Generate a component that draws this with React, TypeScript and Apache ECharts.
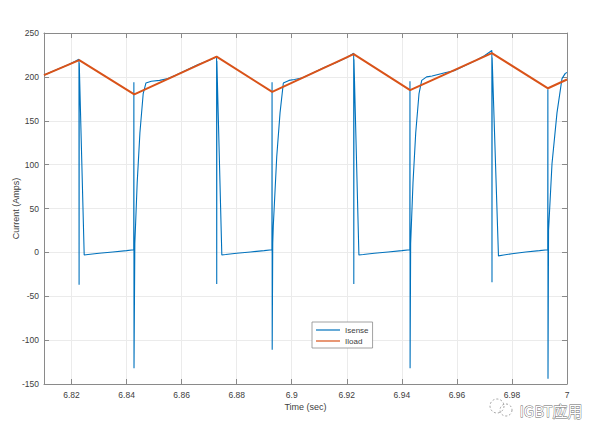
import React, { useEffect, useRef } from "react";
import * as echarts from "echarts";

// tick labels
const TIME_TICKS = [6.82, 6.84, 6.86, 6.88, 6.9, 6.92, 6.94, 6.96, 6.98, 7];

// Iload (orange) : triangle wave
const iloadTime = [6.81, 6.8228, 6.8428, 6.8727, 6.8929, 6.9225, 6.943, 6.9727, 6.9931, 7.0];
const iloadAmps = [202, 219, 180, 223, 183, 226, 185, 227, 187, 197];

// Isense (blue) : sensed switch current
const isenseTime = [
  6.81, 6.813, 6.816, 6.819, 6.8215, 6.8227,
  6.82275, 6.8228, 6.8246, 6.826, 6.83, 6.835, 6.84, 6.8426,
  6.84265, 6.8427, 6.843, 6.84385, 6.84484, 6.84604, 6.84702, 6.849, 6.852, 6.855, 6.858, 6.862, 6.866, 6.87, 6.8727,
  6.87275, 6.8728, 6.8746, 6.876, 6.88, 6.885, 6.89, 6.8928,
  6.89285, 6.8929, 6.8931, 6.8933, 6.89455, 6.89575, 6.89695, 6.899, 6.901, 6.904, 6.908, 6.912, 6.916, 6.92, 6.9225,
  6.92255, 6.9226, 6.9244, 6.926, 6.93, 6.935, 6.94, 6.9429,
  6.94295, 6.943, 6.9432, 6.94405, 6.94504, 6.94624, 6.94722, 6.949, 6.951, 6.9535, 6.956, 6.959, 6.963, 6.967, 6.97, 6.9727,
  6.97275, 6.9728, 6.9751, 6.977, 6.98, 6.985, 6.99, 6.993,
  6.99305, 6.9931, 6.9933, 6.99455, 6.99636, 6.99818, 6.99938, 7.0,
];
const isenseAmps = [
  202, 206, 210, 214, 218, 220,
  -37, 216, -3, -2.5, -1, 0.5, 2, 3,
  194, -132, 10, 79, 136, 181, 193, 195, 196, 198, 202, 208, 214, 219, 223,
  -36, 218, -3, -2.5, -1, 0.5, 2, 3,
  194, -111, 10, 30, 109, 159, 193, 196, 197, 199, 205, 211, 216, 222, 227,
  -36, 220, -3, -2.5, -1, 0.5, 2, 3,
  195, -132, 10, 79, 136, 181, 196, 200, 201, 203, 205, 207, 213, 219, 224, 230,
  -34, 222, -4, -3, -1.5, 0.5, 2, 3,
  186, -144, 25, 101, 159, 198, 204, 205,
];

const zip = (t: number[], a: number[]) => t.map((v, i) => [v, a[i]]);

const AXIS_GRAY = "#8a8a8a";
const TEXT_GRAY = "#404040";
const FONT = "'Liberation Sans', Arial, sans-serif";

export default function App() {
  const ref = useRef<HTMLDivElement>(null);
  useEffect(() => {
    if (!ref.current) return;
    const chart = echarts.init(ref.current, undefined, { renderer: "svg" });
    const baseX = {
      type: "value" as const,
      min: 6.81,
      max: 7,
      axisLine: { show: true, onZero: false, lineStyle: { color: AXIS_GRAY, width: 1 } },
      axisTick: { show: true, inside: true, length: 5, customValues: TIME_TICKS, lineStyle: { color: AXIS_GRAY } },
      splitLine: { show: true, lineStyle: { color: "#ebebeb", width: 1 } },
    };
    const baseY = {
      type: "value" as const,
      min: -150,
      max: 250,
      interval: 50,
      axisLine: { show: true, onZero: false, lineStyle: { color: AXIS_GRAY, width: 1 } },
      axisTick: { show: true, inside: true, length: 5, lineStyle: { color: AXIS_GRAY } },
      splitLine: { show: true, lineStyle: { color: "#ebebeb", width: 1 } },
    };
    chart.setOption({
      animation: false,
      backgroundColor: "#ffffff",
      textStyle: { fontFamily: FONT },
      grid: { left: 44, right: 33, top: 33, bottom: 46, containLabel: false, outerBoundsMode: "none" },
      xAxis: [
        {
          ...baseX,
          position: "bottom",
          name: "Time (sec)",
          nameLocation: "middle",
          nameGap: 18,
          nameMoveOverlap: false,
          nameTextStyle: { color: TEXT_GRAY, fontSize: 9, fontFamily: FONT },
          axisLabel: {
            customValues: TIME_TICKS,
            color: TEXT_GRAY,
            fontSize: 8.5,
            margin: 6,
            fontFamily: FONT,
            formatter: (v: number) => String(Number(v.toFixed(2))),
          },
        },
        {
          ...baseX,
          position: "top",
          axisLabel: { show: false },
          splitLine: { show: false },
        },
      ],
      yAxis: [
        {
          ...baseY,
          position: "left",
          name: "Current (Amps)",
          nameLocation: "middle",
          nameGap: 24,
          nameMoveOverlap: false,
          nameTextStyle: { color: TEXT_GRAY, fontSize: 9, fontFamily: FONT },
          axisLabel: { color: TEXT_GRAY, fontSize: 8.5, margin: 5, fontFamily: FONT },
        },
        {
          ...baseY,
          position: "right",
          axisLabel: { show: false },
          splitLine: { show: false },
        },
      ],
      legend: {
        orient: "vertical",
        left: 312,
        top: 322,
        icon: "rect",
        itemWidth: 24,
        itemHeight: 1.2,
        itemGap: 3,
        padding: [4, 4, 3, 4],
        borderColor: "#8a8a8a",
        borderWidth: 0.8,
        borderRadius: 0,
        backgroundColor: "#ffffff",
        textStyle: { fontSize: 8, color: TEXT_GRAY, fontFamily: FONT, lineHeight: 8 },
        data: ["Isense", "Iload"],
      },
      series: [
        {
          name: "Isense",
          type: "line",
          data: zip(isenseTime, isenseAmps),
          symbol: "none",
          lineStyle: { color: "#0072BD", width: 1.1 },
          itemStyle: { color: "#0072BD" },
          z: 2,
        },
        {
          name: "Iload",
          type: "line",
          data: zip(iloadTime, iloadAmps),
          symbol: "none",
          lineStyle: { color: "#D95319", width: 2 },
          itemStyle: { color: "#D95319" },
          z: 3,
        },
      ],
      graphic: [
        {
          type: "circle",
          shape: { cx: 497, cy: 406, r: 7 },
          style: { fill: "none", stroke: "#8a8a8a", lineWidth: 0.8, lineDash: [2, 2] },
          z: 100,
        },
        {
          type: "circle",
          shape: { cx: 506, cy: 410, r: 6 },
          style: { fill: "none", stroke: "#8a8a8a", lineWidth: 0.8, lineDash: [2, 2] },
          z: 100,
        },
        {
          type: "text",
          left: 519,
          top: 403,
          style: {
            text: "IGBT应用",
            fontSize: 15,
            fontFamily: "'Noto Sans CJK SC', 'Noto Sans', sans-serif",
            fill: "#ffffff",
            stroke: "#666666",
            lineWidth: 0.8,
          },
          z: 100,
        },
      ],
    });
    return () => chart.dispose();
  }, []);
  return (
    <div
      ref={ref}
      style={{ position: "fixed", left: 0, top: 0, width: 600, height: 430, background: "#fff" }}
    />
  );
}
